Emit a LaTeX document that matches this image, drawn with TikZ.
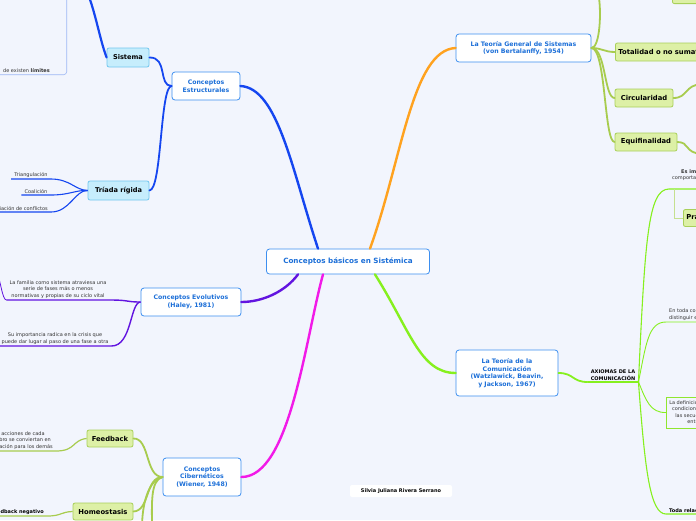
\documentclass[tikz,border=0pt]{standalone}
\usepackage{fontspec}
\setmainfont{DejaVu Sans}
\usepackage{xcolor}
\usetikzlibrary{positioning, calc}

\definecolor{bgcol}{HTML}{F2F5FD}
\definecolor{boxblue}{HTML}{3D8FF0}
\definecolor{txtblue}{HTML}{1C6FD8}
\definecolor{skyfill}{HTML}{C6EDFC}
\definecolor{skyline}{HTML}{72C6EE}
\definecolor{leaffill}{HTML}{DDF0A6}
\definecolor{leafline}{HTML}{A9D05A}
\definecolor{estrblue}{HTML}{1546F0}
\definecolor{evolpurp}{HTML}{6214E0}
\definecolor{cibmag}{HTML}{F21AE8}
\definecolor{tgsorange}{HTML}{FFA21F}
\definecolor{comugreen}{HTML}{86F01E}
\definecolor{olive}{HTML}{A8CC4E}
\definecolor{paleblue}{HTML}{9DB7F5}
\definecolor{palegreen}{HTML}{C5E090}
\definecolor{smallgray}{HTML}{333333}

\begin{document}
\begin{tikzpicture}[x=1pt, y=-1pt,
    every node/.style={font=\fontsize{5}{6}\selectfont},
    mainbox/.style={rectangle, draw=boxblue, fill=white, rounded corners=3pt, line width=0.8pt,
                    align=center, text=txtblue, font=\fontsize{6.2}{7.6}\selectfont\bfseries, inner sep=2pt},
    bluebox/.style={rectangle, draw=skyline, fill=skyfill, rounded corners=2pt, line width=0.8pt,
                    align=center, font=\fontsize{6.6}{8}\selectfont\bfseries, inner sep=2pt},
    greenbox/.style={rectangle, draw=leafline, fill=leaffill, rounded corners=2pt, line width=0.8pt,
                     align=center, font=\fontsize{6.8}{8}\selectfont\bfseries, inner sep=3pt},
    smalltxt/.style={text=smallgray, align=center, inner xsep=3pt, inner ysep=1.5pt,
                     font=\fontsize{5}{6.6}\selectfont},
    boldtxt/.style={smalltxt, font=\fontsize{5}{6.6}\selectfont\bfseries, text=black},
    branch/.style={line width=2.4pt, line cap=round},
    subbranch/.style={line width=1.8pt, line cap=round},
    twig/.style={line width=0.8pt}
]

\useasboundingbox (0,0) rectangle (696,520);
\fill[bgcol] (0,0) rectangle (696,520);
\clip (0,0) rectangle (696,520);

% === Central node and main topics ===
\node[mainbox, minimum width=163pt, minimum height=25pt, font=\fontsize{7.2}{8.6}\selectfont\bfseries]
    (root) at (348,261.5) {Conceptos básicos en Sistémica};
\node[mainbox, minimum width=135pt, minimum height=28pt] (tgs) at (523.5,48) {La Teoría General de Sistemas\\(von Bertalanffy, 1954)};
\node[mainbox, minimum width=68pt, minimum height=28pt] (estr) at (206,86) {Conceptos\\Estructurales};
\node[mainbox, minimum width=100pt, minimum height=28pt] (evol) at (191,302) {Conceptos Evolutivos\\(Haley, 1981)};
\node[mainbox, minimum width=102pt, minimum height=46pt] (comu) at (507,373) {La Teoría de la\\Comunicación\\(Watzlawick, Beavin,\\y Jackson, 1967)};
\node[mainbox, minimum width=78pt, minimum height=38pt] (ciber) at (202,477) {Conceptos\\Cibernéticos\\(Wiener, 1948)};

\draw[branch, estrblue] ([xshift=-30pt]root.north) .. controls (292,170) and (278,88) .. (estr.east);
\draw[branch, tgsorange] ([xshift=22pt]root.north) .. controls (402,160) and (412,50) .. (tgs.west);
\draw[branch, comugreen] ([xshift=27pt]root.south) .. controls (410,330) and (420,373) .. (comu.west);
\draw[branch, evolpurp] ([xshift=-50pt]root.south) .. controls (285,292) and (262,302) .. (evol.east);
\draw[branch, cibmag] ([xshift=-25pt]root.south) .. controls (305,340) and (290,477) .. (ciber.east);

% === Conceptos Estructurales ===
\node[bluebox, minimum width=42pt, minimum height=19pt] (sist) at (128,57.5) {Sistema};
\node[bluebox, minimum width=61pt, minimum height=19pt] (triada) at (118.5,190.5) {Tríada rígida};
\coordinate (sistkid) at (88,-6);

\draw[subbranch, estrblue] (estr.west) .. controls (158,86) and (168,57) .. (sist.east);
\draw[subbranch, estrblue] (estr.west) .. controls (160,86) and (162,190) .. (triada.east);
\draw[branch, estrblue, line width=2.2pt] (sist.west) .. controls (100,40) and (96,15) .. (sistkid);

\node[draw=paleblue, rounded corners=3pt, line width=0.6pt, anchor=south east,
      minimum width=130pt, minimum height=110pt] (limbox) at (67,75) {};
\node[smalltxt, anchor=south east] (limtxt) at (53,74) {de existen \textbf{límites}};

\node[smalltxt, anchor=south] (tri1) at (31,179) {Triangulación};
\node[smalltxt, anchor=south] (tri2) at (36,195) {Coalición};
\node[smalltxt, anchor=south east] (tri3) at (51,212) {Desviación de conflictos};

\draw[twig, estrblue, line width=1.1pt] (triada.west) .. controls (75,190) and (70,179) .. (tri1.south east) -- (tri1.south west);
\draw[twig, estrblue, line width=1.1pt] (triada.west) .. controls (75,190) and (70,195) .. (tri2.south east) -- (tri2.south west);
\draw[twig, estrblue, line width=1.1pt] (triada.west) .. controls (75,190) and (70,212) .. (tri3.south east) -- (tri3.south west);

% === Conceptos Evolutivos ===
\node[smalltxt, anchor=south] (fam) at (58,300) {La familia como sistema atraviesa una\\serie de fases más o menos\\normativas y propias de su ciclo vital};
\node[smalltxt, anchor=south] (crisis) at (55,346) {Su importancia radica en la crisis que\\puede dar lugar al paso de una fase a otra};
\coordinate (famkid) at (-6,262);

\draw[twig, evolpurp, line width=1.4pt] (evol.west) .. controls (125,302) and (130,300) .. (fam.south east) -- (fam.south west);
\draw[twig, evolpurp] (fam.south west) .. controls (2,300) and (1,280) .. (famkid);
\draw[twig, evolpurp, line width=1.4pt] (evol.west) .. controls (130,302) and (132,346) .. (crisis.south east) -- (crisis.south west);

% === Conceptos Cibernéticos ===
\node[greenbox, minimum width=46pt, minimum height=17pt] (feed) at (110,438.5) {Feedback};
\node[greenbox, minimum width=60pt, minimum height=17pt] (homeo) at (103,511.5) {Homeostasis};
\coordinate (cibkid1) at (142,528);
\coordinate (cibkid2) at (152,528);

\draw[subbranch, olive] (ciber.west) .. controls (145,477) and (150,438) .. (feed.east);
\draw[subbranch, olive] (ciber.west) .. controls (145,477) and (150,511) .. (homeo.east);
\draw[subbranch, olive] (ciber.west) .. controls (148,480) and (142,505) .. (cibkid1);
\draw[subbranch, olive] (ciber.west) .. controls (150,480) and (152,505) .. (cibkid2);

\node[smalltxt, anchor=south] (accion) at (18,451) {Las acciones de cada\\miembro se conviertan en\\información para los demás};
\node[boldtxt, anchor=south east] (fbneg) at (47,516) {Feedback negativo};

\draw[twig, olive, line width=1.2pt] (feed.west) .. controls (72,440) and (76,451) .. (accion.south east) -- (accion.south west);
\draw[twig, olive, line width=1.2pt] (homeo.west) .. controls (60,512) and (62,516) .. (fbneg.south east) -- (fbneg.south west);

% === La Teoría General de Sistemas ===
\node[greenbox, anchor=west, minimum height=18pt] (total) at (615,52) {Totalidad o no sumatividad};
\node[greenbox, minimum width=58pt, minimum height=18pt] (circ) at (644,98) {Circularidad};
\node[greenbox, minimum width=62pt, minimum height=18pt] (equi) at (646,142) {Equifinalidad};
\node[greenbox, anchor=south west, minimum width=50pt, minimum height=17pt] (topn) at (672,4) {};
\coordinate (tgskid) at (598,-8);
\coordinate (circkid) at (702,84);
\coordinate (equikid) at (702,154);

\draw[subbranch, olive] (tgs.east) .. controls (602,48) and (604,52) .. (total.west);
\draw[subbranch, olive] (tgs.east) .. controls (606,48) and (604,98) .. (circ.west);
\draw[subbranch, olive] (tgs.east) .. controls (606,48) and (604,142) .. (equi.west);
\draw[subbranch, olive] (tgs.east) .. controls (600,48) and (602,10) .. (tgskid);
\draw[subbranch, olive] (circ.east) .. controls (688,98) and (684,85) .. (circkid);
\draw[subbranch, olive] (equi.east) .. controls (690,142) and (684,153) .. (equikid);

% === La Teoría de la Comunicación ===
\node[boldtxt, anchor=south] (axio) at (613,382) {AXIOMAS DE LA\\COMUNICACIÓN};
\draw[subbranch, comugreen] (comu.east) .. controls (574,373) and (572,382) .. (axio.south west);
\draw[twig, comugreen, line width=1.2pt] (axio.south west) -- (axio.south east);

\node[smalltxt, anchor=south] (esimp) at (722,189) {\textbf{Es imposible no comunicarse}\\comportamiento y comunicación tienen\\valor de mensaje};
\node[greenbox, anchor=west, minimum height=17pt] (prag) at (683,218) {Pragmática};
\node[smalltxt, anchor=south west, align=left] (entoda) at (666,322) {En toda comunicación cabe\\distinguir entre contenido y relación};
\node[smalltxt, draw=comugreen!70!leafline, line width=0.6pt, anchor=west, minimum height=31pt]
    (defbox) at (666,412.5) {La definición de una interacción está\\condicionada por la puntuación de\\las secuencias de comunicación\\entre los participantes};
\node[boldtxt, anchor=south west] (toda) at (666,514) {Toda relación de comunicación es simétrica};

\draw[twig, comugreen, line width=1.1pt] (axio.south east) .. controls (645,240) and (648,189) .. (esimp.south west) -- (esimp.south east);
\draw[twig, palegreen] ([xshift=5pt]esimp.south west) |- (prag.west);
\draw[twig, comugreen, line width=0.9pt] (axio.south east) .. controls (646,345) and (648,322) .. (entoda.south west) -- (entoda.south east);
\draw[twig, comugreen, line width=0.9pt] (axio.south east) .. controls (646,400) and (650,413) .. (defbox.west);
\draw[twig, comugreen, line width=1.1pt] (axio.south east) .. controls (645,470) and (650,514) .. (toda.south west) -- (toda.south east);

% === Author ===
\node[fill=white, rounded corners=2pt, minimum width=102pt, minimum height=12pt,
      font=\fontsize{5}{6}\selectfont\bfseries] (author) at (401,491) {Silvia Juliana Rivera Serrano};

\end{tikzpicture}
\end{document}
